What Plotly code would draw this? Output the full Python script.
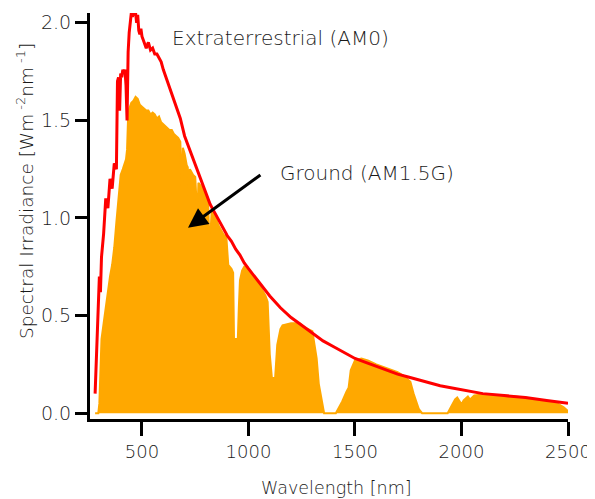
import plotly.graph_objects as go

# Extraterrestrial (AM0) spectrum
am0_wl = [280, 285, 290, 295, 300, 305, 310, 320, 330, 340, 350, 360, 370, 380, 385, 390, 395,
          400, 405, 410, 415, 420, 425, 430, 435, 440, 445, 450, 455, 460, 465, 470, 475, 480,
          485, 490, 495, 500, 510, 520, 530, 540, 550, 560, 570, 580, 590, 600, 620, 640, 660,
          680, 700, 720, 740, 760, 780, 800, 820, 840, 860, 880, 900, 920, 940, 960, 980, 1000,
          1050, 1100, 1150, 1200, 1250, 1300, 1350, 1400, 1450, 1500, 1550, 1600, 1650, 1700,
          1750, 1800, 1850, 1900, 1950, 2000, 2100, 2200, 2300, 2400, 2500]
am0_val = [0.10, 0.25, 0.45, 0.55, 0.70, 0.62, 0.80, 0.92, 1.10, 1.05, 1.20, 1.15, 1.28, 1.25, 1.70,
           1.72, 1.55, 1.74, 1.72, 1.76, 1.74, 1.76, 1.68, 1.50, 1.85, 1.95, 2.02, 2.05, 2.03, 2.05,
           2.04, 2.05, 2.00, 2.04, 1.96, 1.94, 1.97, 1.93, 1.90, 1.87, 1.90, 1.86, 1.87, 1.84, 1.84,
           1.82, 1.80, 1.76, 1.70, 1.64, 1.58, 1.51, 1.42, 1.36, 1.30, 1.24, 1.18, 1.12, 1.07, 1.03,
           0.99, 0.95, 0.91, 0.88, 0.84, 0.81, 0.77, 0.74, 0.67, 0.60, 0.54, 0.49, 0.45, 0.41, 0.37,
           0.34, 0.31, 0.28, 0.26, 0.24, 0.22, 0.20, 0.185, 0.17, 0.155, 0.14, 0.13, 0.12, 0.10,
           0.09, 0.08, 0.065, 0.05]

# Ground (AM1.5G) spectrum
g_wl = [280, 295, 300, 305, 310, 320, 330, 340, 350, 360, 370, 380, 390, 400, 410, 420, 425, 430,
        435, 440, 445, 450, 460, 470, 480, 490, 500, 510, 520, 530, 540, 550, 560, 570, 580, 590,
        600, 610, 620, 630, 640, 650, 660, 670, 680, 687, 692, 700, 710, 715, 720, 725, 740, 750,
        760, 765, 780, 800, 810, 815, 822, 828, 840, 860, 880, 890, 895, 905, 920, 928, 932, 950,
        955, 960, 970, 980, 1000, 1020, 1040, 1060, 1080, 1090, 1100, 1110, 1125, 1135, 1150,
        1160, 1200, 1240, 1260, 1280, 1300, 1310, 1320, 1330, 1345, 1355, 1410, 1420, 1440, 1460,
        1470, 1480, 1500, 1530, 1560, 1600, 1650, 1700, 1730, 1760, 1775, 1790, 1800, 1815, 1935,
        1950, 1970, 1980, 1990, 2000, 2010, 2030, 2040, 2060, 2100, 2200, 2300, 2400, 2450, 2480,
        2500]
g_val = [0.0, 0.0, 0.05, 0.25, 0.38, 0.46, 0.55, 0.62, 0.70, 0.76, 0.85, 0.98, 1.10, 1.22, 1.25,
         1.28, 1.30, 1.35, 1.52, 1.56, 1.58, 1.59, 1.60, 1.62, 1.61, 1.58, 1.57, 1.56, 1.55, 1.55,
         1.53, 1.54, 1.53, 1.51, 1.52, 1.49, 1.48, 1.47, 1.46, 1.45, 1.45, 1.43, 1.42, 1.41, 1.39,
         1.14, 1.36, 1.33, 1.27, 1.26, 1.11, 1.25, 1.22, 1.21, 1.00, 1.18, 1.16, 1.12, 1.09, 0.92,
         0.93, 1.05, 1.02, 0.96, 0.92, 0.90, 0.92, 0.76, 0.74, 0.72, 0.38, 0.38, 0.55, 0.68, 0.73,
         0.75, 0.74, 0.70, 0.67, 0.64, 0.60, 0.57, 0.30, 0.18, 0.18, 0.35, 0.43, 0.45, 0.46, 0.46,
         0.44, 0.43, 0.42, 0.35, 0.28, 0.15, 0.05, 0.0, 0.0, 0.02, 0.06, 0.11, 0.13, 0.22, 0.27,
         0.28, 0.27, 0.25, 0.23, 0.21, 0.19, 0.16, 0.10, 0.05, 0.02, 0.0, 0.0, 0.03, 0.07, 0.08,
         0.06, 0.045, 0.065, 0.085, 0.07, 0.09, 0.095, 0.09, 0.08, 0.06, 0.05, 0.03, 0.01]

x_ticks = [500, 1000, 1500, 2000, 2500]
y_ticks = [0.0, 0.5, 1.0, 1.5, 2.0]
y_tick_labels = ["0.0", "0.5", "1.0", "1.5", "2.0"]

FONT = "DejaVu Sans"
TXT = "#1a1a1a"

def f(size):
    return dict(family=FONT, size=size, color=TXT, weight=300)

fig = go.Figure()
fig.add_trace(go.Scatter(x=g_wl, y=g_val, mode="lines", fill="tozeroy",
                         line=dict(color="#FFA800", width=2), fillcolor="#FFA800",
                         name="Ground (AM1.5G)", showlegend=False))
fig.add_trace(go.Scatter(x=am0_wl, y=am0_val, mode="lines",
                         line=dict(color="#FF0000", width=3),
                         name="Extraterrestrial (AM0)", showlegend=False))

fig.add_annotation(x=631, y=1.92, xref="x", yref="y", text="Extraterrestrial (AM0)",
                   showarrow=False, xanchor="left", yanchor="middle", font=f(20))
fig.add_annotation(x=1139, y=1.23, xref="x", yref="y", text="Ground (AM1.5G)",
                   showarrow=False, xanchor="left", yanchor="middle", font=f(20))
fig.add_annotation(x=716, y=0.95, ax=1063, ay=1.226, xref="x", yref="y",
                   axref="x", ayref="y", text="", showarrow=True,
                   arrowhead=2, arrowsize=1.3, arrowwidth=3, arrowcolor="black")

# axis titles (pixel positions converted below)
fig.add_annotation(x=336, y=487, text="Wavelength [nm]",
                   showarrow=False, xanchor="center", yanchor="middle", font=f(17.5))
fig.add_annotation(x=25, y=190, text="Spectral Irradiance [Wm<sup> -2</sup>nm<sup> -1</sup>]",
                   showarrow=False, xanchor="center", yanchor="middle", textangle=-90,
                   font=f(18.5))

L, R, T, B = 82, 35, 5, 88
W, H = 595, 499
for a in fig.layout.annotations[-2:]:
    a.xref = "paper"
    a.yref = "paper"
    a.x = (a.x - 8 - L) / (W - L - R)
    a.y = 1 - (a.y - 7 - T) / (H - T - B)

fig.update_layout(
    width=W, height=H,
    margin=dict(l=L, r=R, t=T, b=B),
    plot_bgcolor="white", paper_bgcolor="white",
    font=f(18),
    xaxis=dict(range=[256, 2500], tickmode="array", tickvals=x_ticks,
               automargin=False,
               showline=True, linecolor="black", linewidth=3,
               ticks="outside", ticklen=14, tickwidth=3, tickcolor="black",
               showgrid=False, zeroline=False, tickfont=f(18)),
    yaxis=dict(range=[-0.03, 2.05], tickmode="array", tickvals=y_ticks,
               ticktext=y_tick_labels, automargin=False,
               showline=True, linecolor="black", linewidth=3,
               ticks="outside", ticklen=12, tickwidth=3, tickcolor="black",
               showgrid=False, zeroline=False, tickfont=f(19)),
)

fig.write_html("out.html")
